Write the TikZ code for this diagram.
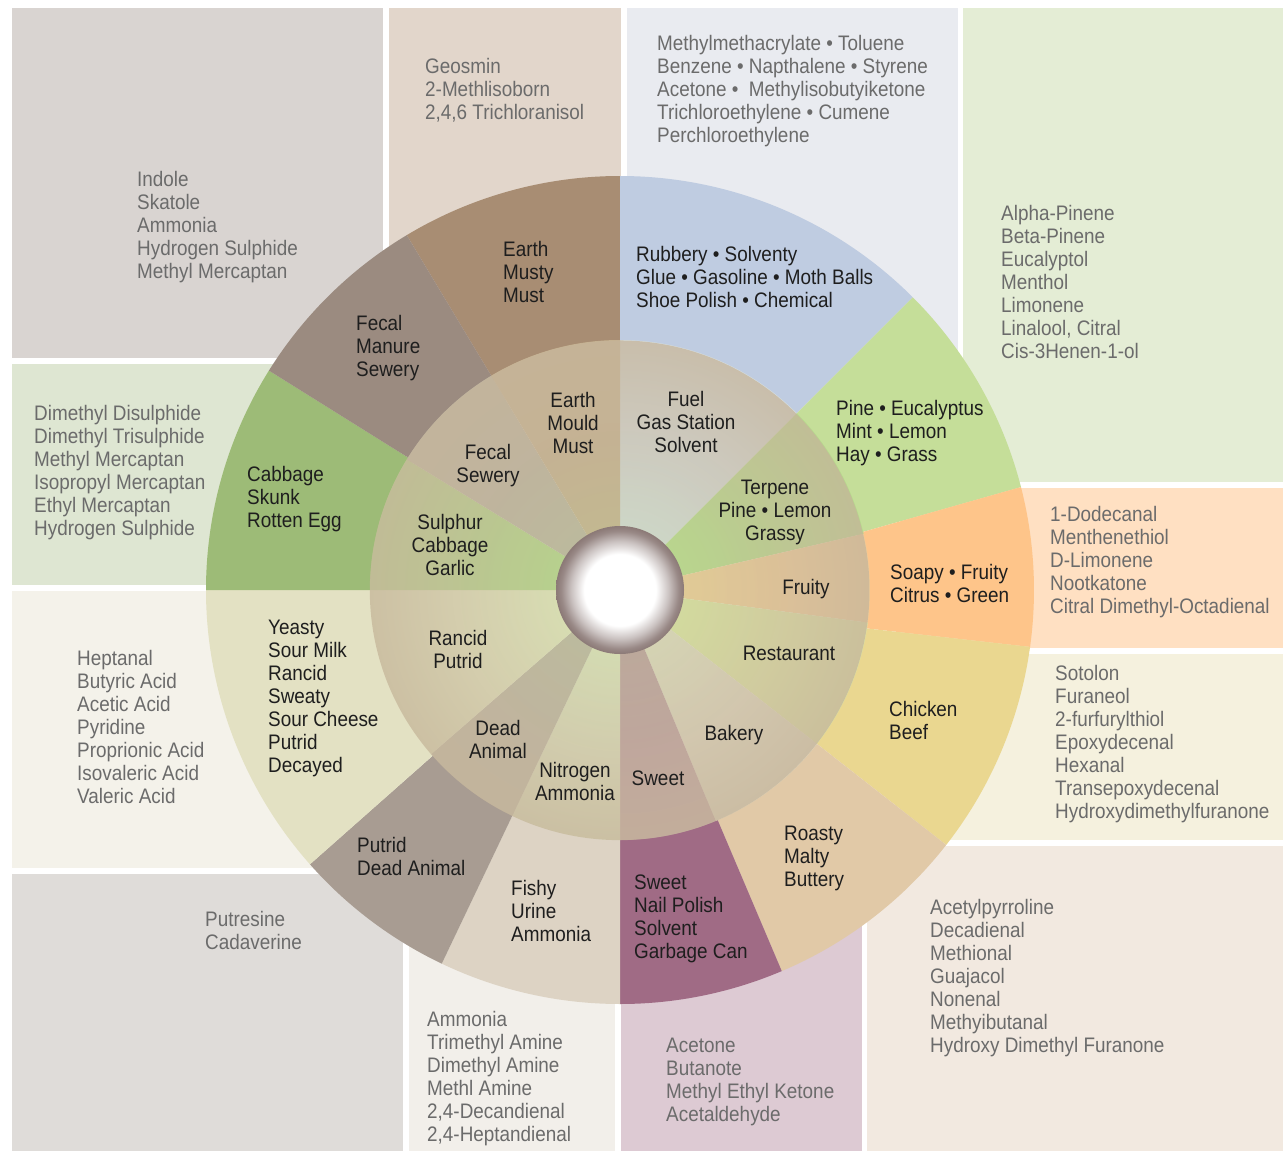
\documentclass[tikz,border=0pt]{standalone}
\usepackage{fontspec}
\setmainfont{Liberation Sans}[FakeStretch=0.9]
\usetikzlibrary{fadings}
\tikzfading[name=rimin, inner color=transparent!100, outer color=transparent!0]
\tikzfading[name=glowout, inner color=transparent!0, outer color=transparent!100]
% panels
\definecolor{pA}{HTML}{D9D4D1}
\definecolor{pB}{HTML}{E2D6CB}
\definecolor{pC}{HTML}{E9EBF0}
\definecolor{pD}{HTML}{E4EDD5}
\definecolor{pE}{HTML}{DEE6D2}
\definecolor{pF}{HTML}{FFE0C2}
\definecolor{pG}{HTML}{F4F2EA}
\definecolor{pH}{HTML}{F5F1DE}
\definecolor{pI}{HTML}{DFDCD9}
\definecolor{pJ}{HTML}{F2EFEA}
\definecolor{pK}{HTML}{DDCAD3}
\definecolor{pL}{HTML}{F2E9E0}
% outer ring
\definecolor{earthO}{HTML}{A88D73}
\definecolor{rubberO}{HTML}{BFCCE1}
\definecolor{pineO}{HTML}{C5DE99}
\definecolor{soapO}{HTML}{FEC58A}
\definecolor{chickO}{HTML}{EAD790}
\definecolor{roastO}{HTML}{E1C9A7}
\definecolor{sweetO}{HTML}{A06B85}
\definecolor{fishO}{HTML}{DDD3C4}
\definecolor{putO}{HTML}{A89C92}
\definecolor{yeastO}{HTML}{E3E1C3}
\definecolor{cabbO}{HTML}{9DBB77}
\definecolor{fecalO}{HTML}{9B8B80}
% inner ring (colours near the centre)
\definecolor{earthI}{HTML}{C6B290}
\definecolor{fuelI}{HTML}{D5DDDE}
\definecolor{terpI}{HTML}{B6DC8C}
\definecolor{fruitI}{HTML}{F1CD98}
\definecolor{restI}{HTML}{DCE3A4}
\definecolor{bakeI}{HTML}{DFD9C2}
\definecolor{sweetI}{HTML}{BC9CA0}
\definecolor{nitroI}{HTML}{DEE4C0}
\definecolor{deadI}{HTML}{BCB6A3}
\definecolor{ranciI}{HTML}{E3E6C0}
\definecolor{sulphI}{HTML}{B4D58C}
\definecolor{fecalI}{HTML}{BCB4A2}
\definecolor{innertan}{HTML}{C5B49A}
\definecolor{glowgreen}{HTML}{B9DC8E}
\definecolor{ballrim}{HTML}{8B7976}
\definecolor{listgray}{HTML}{6B6B6B}
\definecolor{wheeltxt}{HTML}{1E1E1E}
\pgfdeclareradialshading{ballshade}{\pgfpoint{0bp}{0bp}}{color(0bp)=(white); color(14bp)=(white); color(19bp)=(ballrim!45); color(23bp)=(ballrim!88); color(25bp)=(ballrim); color(50bp)=(ballrim)}
\newcommand\fsz{\fontsize{21}{23}\selectfont}
% outer sector: inner angles #1,#2 (r=245), outer angles #3,#4 (r=414)
\newcommand\quadsec[5]{\fill[#5] (#1:245) -- (#3:414) arc[start angle=#3, end angle=#4, radius=414] -- (#2:245) -- cycle;}
\newcommand\piesec[4]{\fill[#4] (0,0) -- (#1:#3) arc[start angle=#1, end angle=#2, radius=#3] -- cycle;}
\begin{document}
\begin{tikzpicture}[x=1pt,y=-1pt,
  lst/.style={anchor=north west, inner sep=0pt, align=left, text=listgray, font=\fsz},
  wl/.style={anchor=north west, inner sep=0pt, align=left, text=wheeltxt, font=\fsz},
  il/.style={anchor=north, inner sep=0pt, align=center, text=wheeltxt, font=\fsz}]
\useasboundingbox (0,0) rectangle (1283,1151);
\fill[white] (0,0) rectangle (1283,1151);
% background panels
\fill[pA] (12,8) rectangle (383,358);
\fill[pB] (389,8) rectangle (621,400);
\fill[pC] (627,8) rectangle (958,400);
\fill[pD] (963,8) rectangle (1283,482);
\fill[pE] (12,364) rectangle (400,585);
\fill[pF] (900,488) rectangle (1283,648);
\fill[pG] (12,591) rectangle (400,868);
\fill[pH] (900,654) rectangle (1283,840);
\fill[pI] (12,874) rectangle (403,1151);
\fill[pJ] (409,800) rectangle (615,1151);
\fill[pK] (621,800) rectangle (862,1151);
\fill[pL] (867,846) rectangle (1283,1151);
% wheel
\begin{scope}[shift={(620,590)}]
  \quadsec{-121}{-90}{-121}{-90}{earthO}
  \quadsec{-90}{-45}{-90}{-45}{rubberO}
  \quadsec{-45}{-13.4}{-45}{-14.4}{pineO}
  \quadsec{-13.4}{8.9}{-14.4}{7.9}{soapO}
  \quadsec{8.9}{38}{7.9}{38}{chickO}
  \quadsec{38}{67}{38}{67}{roastO}
  \quadsec{67}{90}{67}{90}{sweetO}
  \quadsec{90}{115.5}{90}{115.5}{fishO}
  \quadsec{115.5}{138.5}{115.5}{138.5}{putO}
  \quadsec{138.5}{180}{138.5}{180}{yeastO}
  \quadsec{180}{212}{180}{212}{cabbO}
  \quadsec{212}{239}{212}{239}{fecalO}
  \piesec{-90}{-45}{250}{fuelI}
  \piesec{-45}{-13}{250}{terpI}
  \piesec{-13}{7.5}{250}{fruitI}
  \piesec{7.5}{38}{250}{restI}
  \piesec{38}{67.5}{250}{bakeI}
  \piesec{67.5}{90}{250}{sweetI}
  \piesec{90}{115.5}{250}{nitroI}
  \piesec{115.5}{139}{250}{deadI}
  \piesec{139}{180}{250}{ranciI}
  \piesec{180}{211.5}{250}{sulphI}
  \piesec{211.5}{239}{250}{fecalI}
  \piesec{239}{270}{250}{earthI}
  \fill[innertan, opacity=0.75, path fading=rimin] (0,0) circle[radius=250];
  \fill[glowgreen, opacity=0.25, path fading=glowout] (0,0) circle[radius=160];
  \shade[shading=ballshade] (0,0) circle[radius=64];
\end{scope}
% compound lists
\node[lst] (l1) at (137,171) {Indole\\Skatole\\Ammonia\\Hydrogen Sulphide\\Methyl Mercaptan};
\node[lst] (l2) at (425,58) {Geosmin\\2-Methlisoborn\\2,4,6 Trichloranisol};
\node[lst] (l3) at (657,35) {Methylmethacrylate • Toluene\\Benzene • Napthalene • Styrene\\Acetone •\ \ Methylisobutyiketone\\Trichloroethylene • Cumene\\Perchloroethylene};
\node[lst] (l4) at (1001,205) {Alpha-Pinene\\Beta-Pinene\\Eucalyptol\\Menthol\\Limonene\\Linalool, Citral\\Cis-3Henen-1-ol};
\node[lst] (l5) at (34,405) {Dimethyl Disulphide\\Dimethyl Trisulphide\\Methyl Mercaptan\\Isopropyl Mercaptan\\Ethyl Mercaptan\\Hydrogen Sulphide};
\node[lst] (l6) at (1050,506) {1-Dodecanal\\Menthenethiol\\D-Limonene\\Nootkatone\\Citral Dimethyl-Octadienal};
\node[lst] (l7) at (77,650) {Heptanal\\Butyric Acid\\Acetic Acid\\Pyridine\\Proprionic Acid\\Isovaleric Acid\\Valeric Acid};
\node[lst] (l8) at (1055,665) {Sotolon\\Furaneol\\2-furfurylthiol\\Epoxydecenal\\Hexanal\\Transepoxydecenal\\Hydroxydimethylfuranone};
\node[lst] (l9) at (205,911) {Putresine\\Cadaverine};
\node[lst] (l10) at (427,1011) {Ammonia\\Trimethyl Amine\\Dimethyl Amine\\Methl Amine\\2,4-Decandienal\\2,4-Heptandienal};
\node[lst] (l11) at (666,1038) {Acetone\\Butanote\\Methyl Ethyl Ketone\\Acetaldehyde};
\node[lst] (l12) at (930,899) {Acetylpyrroline\\Decadienal\\Methional\\Guajacol\\Nonenal\\Methyibutanal\\Hydroxy Dimethyl Furanone};
% outer ring labels
\node[wl] (o1) at (503,241) {Earth\\Musty\\Must};
\node[wl] (o2) at (636,246) {Rubbery • Solventy\\Glue • Gasoline • Moth Balls\\Shoe Polish • Chemical};
\node[wl] (o3) at (356,315) {Fecal\\Manure\\Sewery};
\node[wl] (o4) at (836,400) {Pine • Eucalyptus\\Mint • Lemon\\Hay • Grass};
\node[wl] (o5) at (247,466) {Cabbage\\Skunk\\Rotten Egg};
\node[wl] (o6) at (890,564) {Soapy • Fruity\\Citrus • Green};
\node[wl] (o7) at (268,620) {Yeasty\\Sour Milk\\Rancid\\Sweaty\\Sour Cheese\\Putrid\\Decayed};
\node[wl] (o8) at (889,701) {Chicken\\Beef};
\node[wl] (o9) at (357,837) {Putrid\\Dead Animal};
\node[wl] (o10) at (784,826) {Roasty\\Malty\\Buttery};
\node[wl] (o11) at (511,880) {Fishy\\Urine\\Ammonia};
\node[wl] (o12) at (634,875) {Sweet\\Nail Polish\\Solvent\\Garbage Can};
% inner ring labels
\node[il] (i1) at (573,392) {Earth\\Mould\\Must};
\node[il] (i2) at (686,391) {Fuel\\Gas Station\\Solvent};
\node[il] (i3) at (488,444) {Fecal\\Sewery};
\node[il] (i4) at (775,480) {Terpene\\Pine • Lemon\\Grassy};
\node[il] (i5) at (450,514) {Sulphur\\Cabbage\\Garlic};
\node[il] (i6) at (806,579) {Fruity};
\node[il] (i7) at (458,630) {Rancid\\Putrid};
\node[il] (i8) at (789,646) {Restaurant};
\node[il] (i9) at (498,720) {Dead\\Animal};
\node[il] (i10) at (734,725) {Bakery};
\node[il] (i11) at (575,762) {Nitrogen\\Ammonia};
\node[il] (i12) at (658,771) {Sweet};
\end{tikzpicture}
\end{document}
